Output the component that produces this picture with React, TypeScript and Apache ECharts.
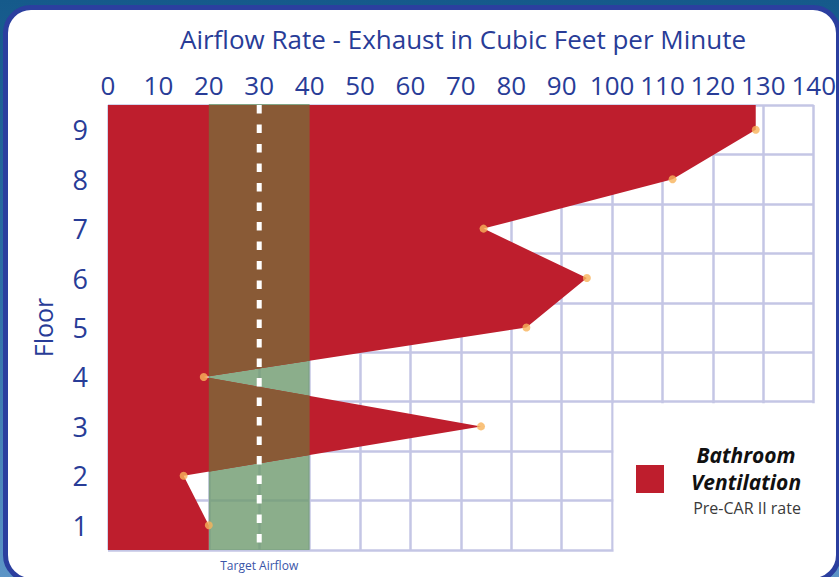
import React, { useEffect, useRef } from 'react';
import * as echarts from 'echarts';

// ---- data ----
const floorLabels = ['1', '2', '3', '4', '5', '6', '7', '8', '9'];
const floors = [1, 2, 3, 4, 5, 6, 7, 8, 9];
const exhaustCfm = [20, 15, 74, 19, 83, 95, 74.5, 112, 128.5];
const targetBand = [20, 40];
const targetCfm = 30;
const xMin = 0;
const xMax = 140;
const xStep = 10;
const legendCorner = [100, 3.5];

const BLUE = '#283C97';
const RED = '#BE1E2D';
const BROWN = '#895A36';
const GREEN = 'rgba(110,154,110,0.8)';
const GRID = '#C4C6E5';
const DOT = '#F8B35A';
const FONT = '"Open Sans", "Noto Sans", sans-serif';

const yLo = floors[0] - 0.5;
const yHi = floors[floors.length - 1] + 0.5;

function intersectX(a: number[], b: number[], c: number) {
  const t = (c - a[0]) / (b[0] - a[0]);
  return [c, a[1] + t * (b[1] - a[1])];
}

function clipX(poly: number[][], c: number, keepRight: boolean) {
  const inside = (p: number[]) => (keepRight ? p[0] >= c : p[0] <= c);
  const out: number[][] = [];
  for (let i = 0; i < poly.length; i++) {
    const cur = poly[i];
    const prev = poly[(i + poly.length - 1) % poly.length];
    const ci = inside(cur);
    const pi = inside(prev);
    if (ci) {
      if (!pi) out.push(intersectX(prev, cur, c));
      out.push(cur);
    } else if (pi) {
      out.push(intersectX(prev, cur, c));
    }
  }
  return out;
}

function buildOutline() {
  const n = floors.length;
  const pts: number[][] = [[xMin, yHi], [exhaustCfm[n - 1], yHi]];
  for (let i = n - 1; i >= 0; i--) pts.push([exhaustCfm[i], floors[i]]);
  pts.push([exhaustCfm[0], yLo]);
  pts.push([xMin, yLo]);
  return pts;
}

const centered = { align: 'center', verticalAlign: 'middle', textAlign: 'center', textVerticalAlign: 'middle' };

export default function App() {
  const ref = useRef<HTMLDivElement>(null);

  useEffect(() => {
    if (!ref.current) return;
    const chart = echarts.init(ref.current, undefined, { renderer: 'svg' });
    const outline = buildOutline();
    const overlap = clipX(clipX(outline, targetBand[0], true), targetBand[1], false);

    const legendTitle = (text: string, y: number) => ({
      type: 'text',
      x: 746,
      y,
      z: 100,
      style: {
        text,
        fill: '#111111',
        fontSize: 21,
        fontWeight: 'bold',
        fontStyle: 'italic',
        fontFamily: FONT,
        ...centered,
      },
    });

    const option: any = {
      animation: false,
      backgroundColor: 'transparent',
      textStyle: { fontFamily: FONT },
      grid: { left: 108, right: 25, top: 105, bottom: 27, containLabel: false },
      xAxis: {
        type: 'value',
        position: 'top',
        min: xMin,
        max: xMax,
        interval: xStep,
        axisLine: { show: false },
        axisTick: { show: false },
        axisLabel: { color: BLUE, fontSize: 26, margin: 7, fontFamily: FONT },
        splitLine: { show: true, lineStyle: { color: GRID, width: 2.5 } },
      },
      yAxis: [
        {
          type: 'category',
          data: floorLabels,
          boundaryGap: true,
          axisLine: { show: false },
          axisTick: { show: false },
          axisLabel: { color: BLUE, fontSize: 27, margin: 20, interval: 0, fontFamily: FONT },
          splitLine: { show: true, interval: 0, lineStyle: { color: GRID, width: 2.5 } },
          name: 'Floor',
          nameLocation: 'middle',
          nameGap: 53,
          nameTextStyle: { color: BLUE, fontSize: 25, fontFamily: FONT },
        },
        { type: 'value', min: yLo, max: yHi, show: false },
      ],
      series: [
        {
          type: 'custom',
          coordinateSystem: 'cartesian2d',
          xAxisIndex: 0,
          yAxisIndex: 1,
          silent: true,
          z: 3,
          data: [[targetCfm, floors[0]]],
          renderItem: (_params: any, api: any) => {
            const P = (p: number[]) => api.coord(p);
            const bTL = P([targetBand[0], yHi]);
            const bBR = P([targetBand[1], yLo]);
            const cTL = P(legendCorner);
            const cBR = P([xMax, yLo]);
            const dTop = P([targetCfm, yHi]);
            const dBot = P([targetCfm, yLo]);
            return {
              type: 'group',
              children: [
                {
                  type: 'rect',
                  shape: {
                    x: cTL[0] + 1.5,
                    y: cTL[1] + 1.5,
                    width: cBR[0] - cTL[0] + 10,
                    height: cBR[1] - cTL[1] + 10,
                  },
                  style: { fill: '#ffffff' },
                },
                {
                  type: 'rect',
                  shape: { x: bTL[0], y: bTL[1] - 1, width: bBR[0] - bTL[0], height: bBR[1] - bTL[1] + 1 },
                  style: { fill: GREEN },
                },
                {
                  type: 'polygon',
                  shape: { points: outline.map(P) },
                  style: { fill: RED },
                },
                {
                  type: 'polygon',
                  shape: { points: overlap.map(P) },
                  style: { fill: BROWN },
                },
                {
                  type: 'line',
                  shape: { x1: dTop[0], y1: dTop[1], x2: dBot[0], y2: dBot[1] - 3 },
                  style: { stroke: '#ffffff', lineWidth: 5, lineDash: [8.5, 11] },
                },
                {
                  type: 'text',
                  x: dBot[0],
                  y: dBot[1] + 15,
                  style: {
                    text: 'Target Airflow',
                    fill: '#3A55A8',
                    fontSize: 12,
                    fontFamily: FONT,
                    ...centered,
                  },
                },
              ],
            };
          },
        },
        {
          type: 'scatter',
          xAxisIndex: 0,
          yAxisIndex: 1,
          z: 5,
          symbolSize: 8,
          itemStyle: { color: DOT },
          data: floors.map((f, i) => [exhaustCfm[i], f]),
        },
      ],
      graphic: [
        {
          type: 'text',
          x: 463,
          y: 39,
          z: 100,
          style: {
            text: 'Airflow Rate - Exhaust in Cubic Feet per Minute',
            fill: BLUE,
            fontSize: 26,
            fontFamily: FONT,
            ...centered,
          },
        },
        {
          type: 'rect',
          z: 100,
          shape: { x: 636, y: 465, width: 28, height: 28 },
          style: { fill: RED },
        },
        legendTitle('Bathroom', 455),
        legendTitle('Ventilation', 482),
        {
          type: 'text',
          x: 747,
          y: 508,
          z: 100,
          style: {
            text: 'Pre-CAR II rate',
            fill: '#3A3A3A',
            fontSize: 16,
            fontFamily: FONT,
            ...centered,
          },
        },
      ],
    };
    chart.setOption(option);
    return () => chart.dispose();
  }, []);

  return (
    <div
      style={{
        position: 'fixed',
        left: 0,
        top: 0,
        width: 839,
        height: 577,
        overflow: 'hidden',
        background: 'linear-gradient(180deg, #155A8B 0%, #2D6FA6 50%, #5C94C6 100%)',
      }}
    >
      <div
        style={{
          position: 'absolute',
          left: 3,
          top: 5,
          width: 838,
          height: 578,
          boxSizing: 'border-box',
          border: '5px solid #2B3F9F',
          borderRadius: 28,
          background: '#ffffff',
        }}
      />
      <div ref={ref} style={{ position: 'absolute', left: 0, top: 0, width: 839, height: 577 }} />
    </div>
  );
}
